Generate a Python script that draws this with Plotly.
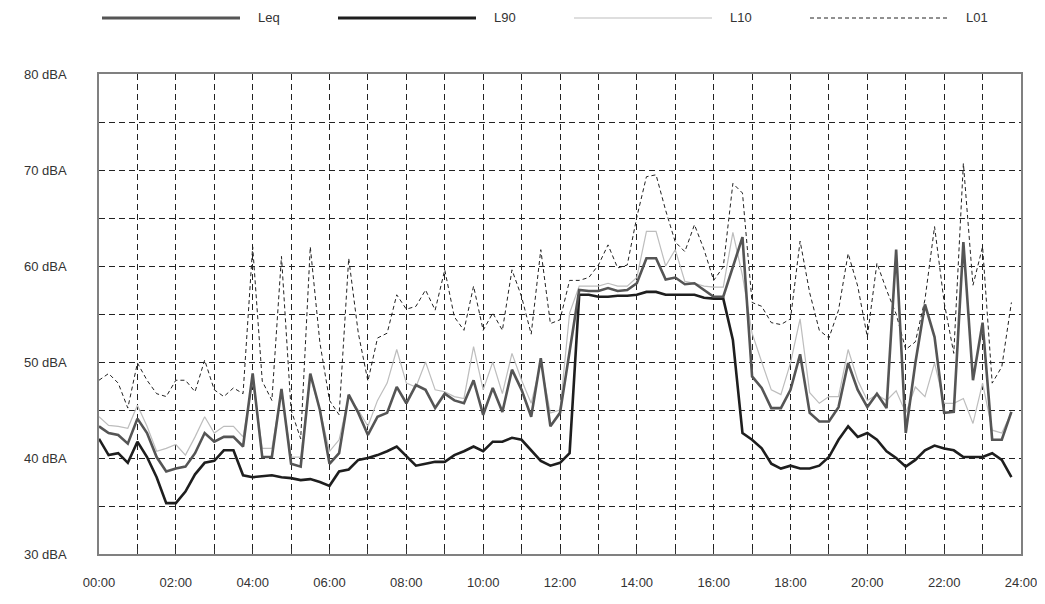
import plotly.graph_objects as go

# time of day in hours, 15-minute intervals (00:00 .. 23:45)
n_points = 96
hours = [i * 0.25 for i in range(n_points)]

L90 = [42.0, 40.3, 40.5, 39.5, 41.7, 40.1, 38.0, 35.3, 35.3, 36.5, 38.3, 39.5, 39.7, 40.8, 40.8, 38.2, 38.0,
       38.1, 38.2, 38.0, 37.9, 37.7, 37.8, 37.5, 37.1, 38.6, 38.8, 39.8, 40.0, 40.3, 40.7, 41.2, 40.2,
       39.2, 39.4, 39.6, 39.6, 40.3, 40.7, 41.2, 40.7, 41.7, 41.7, 42.1, 41.9, 40.8, 39.7, 39.2, 39.5,
       40.5, 57.0, 57.0, 56.8, 56.8, 56.9, 56.9, 57.0, 57.3, 57.3, 57.0, 57.0, 57.0, 57.0, 56.7, 56.6,
       56.6, 52.3, 42.6, 41.9, 41.0, 39.4, 38.9, 39.2, 38.9, 38.9, 39.2, 40.1, 41.9, 43.3, 42.2, 42.6,
       41.9, 40.7, 40.0, 39.1, 39.8, 40.8, 41.3, 41.0, 40.8, 40.1, 40.1, 40.1, 40.5, 39.8, 38.0]

Leq = [43.3, 42.6, 42.4, 41.5, 44.1, 42.6, 40.1, 38.6, 38.9, 39.1, 40.5, 42.6, 41.7, 42.2, 42.2, 41.2, 48.8,
       40.1, 40.1, 47.2, 39.4, 39.1, 48.8, 45.0, 39.4, 40.5, 46.6, 44.7, 42.4, 44.3, 44.7, 47.4, 45.7,
       47.6, 47.1, 45.2, 46.7, 46.0, 45.7, 48.1, 44.5, 47.3, 44.8, 49.2, 47.1, 44.3, 50.4, 43.3, 44.7,
       51.0, 57.5, 57.4, 57.4, 57.7, 57.4, 57.5, 58.2, 60.8, 60.8, 58.6, 58.8, 58.1, 58.2, 57.5, 56.8,
       56.8, 59.9, 63.0, 48.5, 47.3, 45.2, 45.2, 47.1, 50.8, 44.7, 43.8, 43.8, 45.3, 49.9, 47.1, 45.3,
       46.7, 45.2, 61.7, 42.6, 49.9, 56.0, 52.6, 44.7, 44.8, 62.5, 48.1, 54.1, 41.9, 41.9, 44.8]

L10 = [44.3, 43.4, 43.3, 43.1, 45.5, 43.3, 40.7, 41.0, 41.4, 40.3, 42.2, 44.3, 42.6, 43.3, 43.3, 42.2, 48.0,
       41.0, 41.0, 47.0, 40.1, 40.1, 48.5, 45.0, 40.7, 41.9, 46.4, 45.0, 43.3, 46.0, 47.8, 51.3, 47.8,
       47.4, 50.0, 47.1, 46.9, 46.4, 46.2, 51.6, 47.1, 50.0, 46.7, 50.9, 48.1, 45.7, 49.9, 44.7, 45.0,
       55.1, 57.9, 57.9, 57.9, 58.2, 57.9, 57.9, 58.8, 63.6, 63.6, 60.0, 61.7, 58.4, 58.2, 57.9, 57.8,
       57.8, 63.5, 59.0, 53.0, 50.0, 47.1, 46.6, 49.9, 54.5, 46.8, 45.7, 46.4, 46.4, 51.3, 48.1, 46.0,
       46.6, 46.0, 47.0, 44.7, 47.4, 46.4, 49.9, 45.7, 45.7, 46.2, 43.6, 47.8, 42.9, 42.6, 44.7]

L01 = [48.1, 48.8, 47.8, 45.2, 49.9, 48.1, 46.7, 46.4, 48.1, 48.1, 46.9, 50.2, 47.1, 46.4, 47.3, 46.7, 62.0,
       48.0, 46.0, 61.0, 45.0, 42.0, 62.0, 52.0, 46.0, 44.5, 60.8, 53.0, 48.0, 52.5, 53.0, 57.0, 55.5,
       55.8, 57.5, 55.4, 59.6, 54.7, 53.3, 57.9, 53.3, 55.1, 53.3, 59.6, 56.8, 52.9, 61.7, 54.0, 54.4,
       58.5, 58.5, 58.8, 60.1, 62.2, 59.8, 60.1, 65.1, 69.3, 69.5, 65.8, 62.5, 61.5, 64.3, 61.7, 58.5,
       59.9, 68.6, 67.6, 56.2, 55.8, 54.1, 53.9, 54.5, 62.6, 57.2, 53.3, 52.5, 55.4, 61.3, 57.9, 52.6,
       60.3, 57.5, 55.0, 51.3, 52.1, 56.5, 64.1, 56.2, 50.9, 70.7, 58.0, 62.0, 47.8, 49.5, 56.2]

series_names = ["Leq", "L90", "L10", "L01"]
series_values = [Leq, L90, L10, L01]
series_colors = ["#555555", "#1e1e1e", "#bdbdbd", "#222222"]
series_widths = [2.6, 2.6, 1.2, 1.0]
series_dash = ["solid", "solid", "solid", "4px,3px"]
draw_order = [3, 2, 1, 0]  # L01 at the back, Leq on top

x_tick_vals = list(range(0, 25))
x_tick_text = [f"{h:02d}:00" if h % 2 == 0 else "" for h in x_tick_vals]
y_tick_vals = list(range(30, 81, 5))
y_tick_text = [f"{v} dBA" if v % 10 == 0 else "" for v in y_tick_vals]

# figure geometry (the page adds an 8px body margin)
W, H = 1037, 588
ML, MR, MT, MB = 91, 24, 66, 42
plot_w = W - ML - MR
plot_h = H - MT - MB


def px_to_paper_x(px):
    return (px - ML) / plot_w


def px_to_paper_y(py):
    return (H - MB - py) / plot_h


fig = go.Figure()
for i in draw_order:
    fig.add_trace(go.Scatter(
        x=hours, y=series_values[i], name=series_names[i], mode="lines", showlegend=False,
        line=dict(color=series_colors[i], width=series_widths[i], dash=series_dash[i])))

# legend drawn as a row of line samples with labels
legend_y = 10
legend_x0 = 94
legend_step = 236
legend_line_len = 138
legend_text_gap = 16
shapes = []
annotations = []
for i, name in enumerate(series_names):
    x0 = legend_x0 + i * legend_step
    shapes.append(dict(type="line", xref="paper", yref="paper",
                       x0=px_to_paper_x(x0), x1=px_to_paper_x(x0 + legend_line_len),
                       y0=px_to_paper_y(legend_y), y1=px_to_paper_y(legend_y),
                       line=dict(color=series_colors[i],
                                 width=series_widths[i] + 0.4 if i < 2 else series_widths[i],
                                 dash=series_dash[i])))
    annotations.append(dict(text=name, xref="paper", yref="paper",
                            x=px_to_paper_x(x0 + legend_line_len + legend_text_gap),
                            y=px_to_paper_y(legend_y), xanchor="left", yanchor="middle",
                            showarrow=False, font=dict(size=13, color="#333333")))

fig.update_layout(
    width=W, height=H,
    margin=dict(l=ML, r=MR, t=MT, b=MB, autoexpand=False),
    paper_bgcolor="white", plot_bgcolor="white",
    font=dict(family="Liberation Sans, Arial, sans-serif", size=13, color="#333333"),
    showlegend=False,
    shapes=shapes,
    annotations=annotations,
    xaxis=dict(range=[0, 24], tickmode="array", tickvals=x_tick_vals, ticktext=x_tick_text,
               showgrid=True, gridcolor="#222222", gridwidth=1, griddash="6px,4px",
               ticks="inside", ticklen=5, tickcolor="#333333",
               showline=True, mirror=True, linecolor="#808080", linewidth=1.5,
               zeroline=False, ticklabelstandoff=16, automargin=False,
               ticklabeloverflow="allow"),
    yaxis=dict(range=[30, 80], tickmode="array", tickvals=y_tick_vals, ticktext=y_tick_text,
               showgrid=True, gridcolor="#222222", gridwidth=1, griddash="6px,4px",
               ticks="", showline=True, mirror=True, linecolor="#808080", linewidth=1.5,
               zeroline=False, ticklabelstandoff=28, automargin=False),
)

fig.write_html("out.html")
